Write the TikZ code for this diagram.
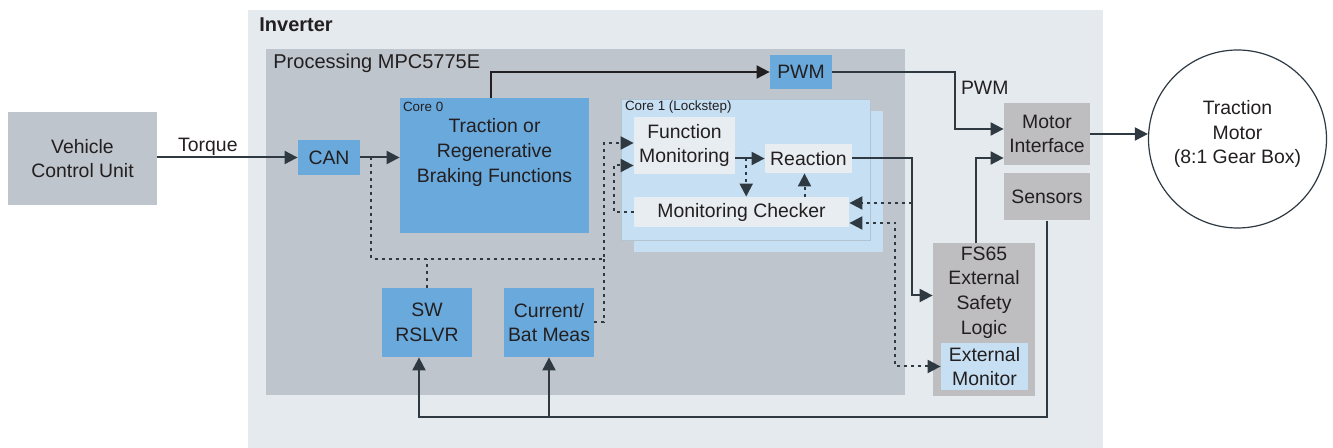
\documentclass[tikz,border=0pt]{standalone}
\usepackage{fontspec}
\setmainfont{Liberation Sans}
\usetikzlibrary{arrows.meta, calc, positioning}

\definecolor{invbg}{HTML}{E5EAEF}
\definecolor{procbg}{HTML}{BEC5CD}
\definecolor{coreblue}{HTML}{6AA9DC}
\definecolor{lockblue}{HTML}{C6DFF2}
\definecolor{lockedge}{HTML}{B2C3D1}
\definecolor{palebox}{HTML}{E8EDF1}
\definecolor{hwgray}{HTML}{BEBEC0}
\definecolor{wire}{HTML}{2F3942}
\definecolor{ink}{HTML}{231F20}

\begin{document}
\begin{tikzpicture}[
    x=0.5pt, y=-0.5pt,
    font=\fontsize{9.7}{12.4}\selectfont,
    every node/.style={text=ink, inner sep=0pt, align=center},
    blk/.style={fill=coreblue},
    hw/.style={fill=hwgray},
    pale/.style={fill=palebox},
    lock/.style={fill=lockblue},
    arr/.style={draw=wire, line width=1pt, -{Triangle[length=6.5pt, width=6.5pt]}},
    dots/.style={draw=wire, line width=1pt, dash pattern=on 1.5pt off 2pt},
    darr/.style={dots, -{Triangle[length=6.5pt, width=6.5pt]}},
    dbl/.style={dots, {Triangle[length=6.5pt, width=6.5pt]}-{Triangle[length=6.5pt, width=6.5pt]}},
    tiny/.style={font=\fontsize{6.7}{8}\selectfont}
]
    \useasboundingbox (0,0) rectangle (1333,448);

    % Areas
    \fill[invbg] (248,10) rectangle (1103,448);
    \fill[procbg] (266,49) rectangle (905,395);
    \node[anchor=west, font=\fontsize{10}{12}\selectfont\bfseries] (inv) at (259,25) {Inverter};
    \node[anchor=west, font=\fontsize{10}{12}\selectfont] (proc) at (273,63) {Processing MPC5775E};

    % Blocks
    \node[fill=procbg, minimum width=74.5pt, minimum height=46.5pt] (vcu) at (82.5,158.5) {Vehicle\\Control Unit};
    \node[blk, minimum width=31pt, minimum height=17.5pt] (can) at (329,157.5) {CAN};
    \node[blk, minimum width=94.5pt, minimum height=67.5pt] (core0) at (494.5,165.5) {};
    \node[tiny, anchor=west] at ([shift={(3,9)}]core0.north west) {Core 0};
    \node (core0txt) at ($(core0.north)+(0,55)$) {Traction or\\Regenerative\\Braking Functions};
    \node[blk, minimum width=31pt, minimum height=17pt] (pwm) at (801,72) {PWM};

    % Core 1
    \node[lock, minimum width=124.5pt, minimum height=70.5pt] (core1b) at (758.5,181.5) {};
    \node[lock, draw=lockedge, line width=0.4pt, minimum width=124.5pt, minimum height=70.5pt] (core1) at (745.5,169.5) {};
    \node[tiny, anchor=west] at ([shift={(4,8)}]core1.north west) {Core 1 (Lockstep)};
    \node[pale, minimum width=50.5pt, minimum height=28.5pt] (fmon) at (684.5,145.5) {Function\\Monitoring};
    \node[pale, minimum width=43.5pt, minimum height=14.5pt] (react) at (808.5,158.5) {Reaction};
    \node[pale, minimum width=107.5pt, minimum height=15pt] (mcheck) at (741.5,212) {Monitoring Checker};

    \node[blk, minimum width=45pt, minimum height=34.5pt] (sw) at (427,322.5) {SW\\RSLVR};
    \node[blk, minimum width=45pt, minimum height=34.5pt] (meas) at (549,322.5) {Current/\\Bat Meas};

    % Hardware
    \node[hw, minimum width=43pt, minimum height=31pt] (motif) at (1047,134) {Motor\\Interface};
    \node[hw, minimum width=43pt, minimum height=23.5pt] (sens) at (1047,197) {Sensors};
    \node[hw, minimum width=51pt, minimum height=76.5pt] (fs65) at (984,319.5) {};
    \node (fs65txt) at ($(fs65.north)+(0,50)$) {FS65\\External\\Safety\\Logic};
    \node[lock, minimum width=43.5pt, minimum height=23.5pt] (extmon) at (984.5,366.5) {External\\Monitor};
    \node[circle, draw=wire, line width=0.6pt, fill=white, minimum size=89pt] (motor) at (1237.5,139) {};
    \node (motortxt) at ($(motor.center)+(0,-5)$) {Traction\\Motor\\(8:1 Gear Box)};

    % Connections
    \draw[arr] (vcu.east |- can.west) -- node[pos=0.36, above=0.5pt] (torque) {Torque} (can.west);
    \draw[arr] (can.east) -- (can.east -| core0.west);
    \draw[arr, draw=ink] ([xshift=-2pt]core0.north) |- (pwm.west);
    \coordinate (pwmturn) at (955,72);
    \draw[arr] (pwm.east) -- (pwmturn) |- node[pos=0.14, right=2.5pt] (pwmlbl) {PWM} ([yshift=2.5pt]motif.west);
    \draw[arr] ([xshift=-4pt]fs65.north) |- ([yshift=-12pt]motif.west);
    \draw[arr] (motif.east) -- (motif.east -| motor.west);

    \coordinate (busl) at (419,417);
    \draw[arr] (sens.south) |- (busl) -- (busl |- sw.south);
    \draw[arr] (meas.south |- busl) -- (meas.south);

    \coordinate (rturn) at ($(react.east)+(60,0)$);
    \draw[arr] (react.east) -- (rturn) |- ([yshift=12pt]fs65.west);

    % Monitoring paths
    \draw[arr] (fmon.east |- react.west) -- (react.west);
    \coordinate (fmtap) at ($(fmon.east |- react.west)!0.37!(react.west)$);
    \draw[darr] (fmtap) -- (fmtap |- mcheck.north);
    \coordinate (rtap) at ([xshift=-2pt]react.south);
    \draw[darr] (rtap |- mcheck.north) -- (rtap);
    \draw[darr] (mcheck.west) -- ++(-20,0) |- ([yshift=-10pt]fmon.west);

    \coordinate (cantap) at ($(can.east)!0.28!(can.east -| core0.west)$);
    \coordinate (busjoin) at (604,259);
    \draw[darr] (cantap) |- (busjoin) |- ([yshift=1.25pt]fmon.west);
    \draw[dots] (sw.north) -- (sw.north |- busjoin);
    \draw[dots] (meas.east) -| (busjoin);

    \coordinate (mcin1) at ([yshift=4.5pt]mcheck.east);
    \draw[darr] (rturn |- mcin1) -- (mcin1);
    \coordinate (mcin2) at ([yshift=-5.5pt]mcheck.east);
    \draw[dbl] (extmon.west) -| ($(mcin2)+(46,0)$) -- (mcin2);
\end{tikzpicture}
\end{document}
